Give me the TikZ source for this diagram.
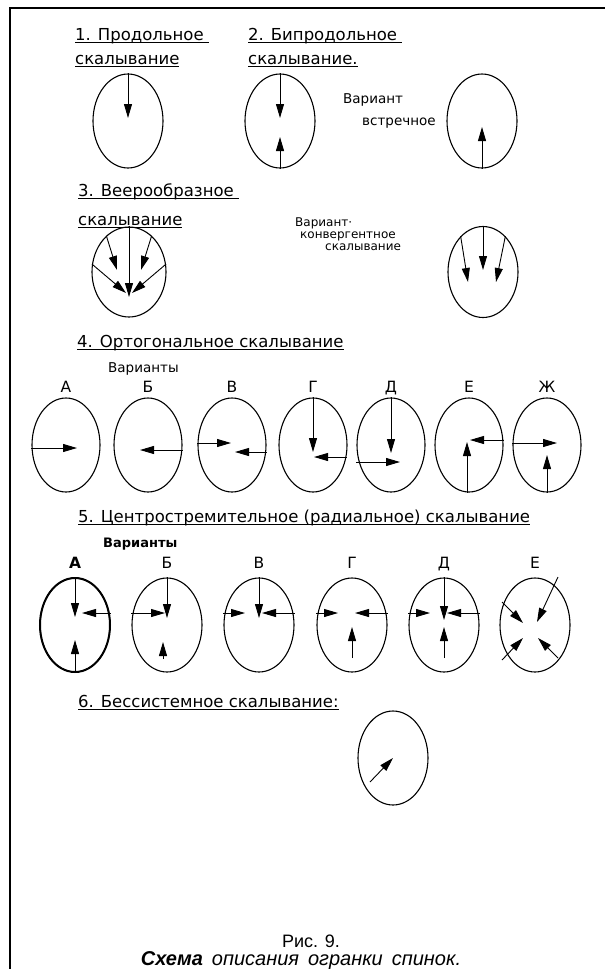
\documentclass[tikz,border=0pt]{standalone}
\usepackage{fontspec}
\setmainfont{DejaVu Sans}
\newfontfamily\capfont{Liberation Sans}
\usetikzlibrary{positioning, calc, arrows.meta, shapes.geometric}

\newcommand{\ulin}[1]{\sbox0{#1}\rlap{\rule[-3pt]{\wd0}{0.9pt}}\usebox0}

\begin{document}
\begin{tikzpicture}[x=1pt, y=-1pt,
    oval/.style={draw, ellipse, minimum width=70pt, minimum height=94pt,
                 inner sep=0pt, line width=1.1pt},
    arw/.style={-{Triangle[length=14pt, width=8pt]}, line width=0.9pt},
    head/.style={anchor=base west, inner sep=0pt, font=\fontsize{16.5}{20}\selectfont},
    note/.style={anchor=base west, inner sep=0pt, font=\fontsize{13.5}{16}\selectfont},
    lett/.style={anchor=base, inner sep=0pt, font=\fontsize{15.5}{18}\selectfont},
]
\useasboundingbox (0,0) rectangle (605,969);
\draw[line width=2.5pt] (9,8) -- (605,8);
\draw[line width=2pt] (10,8) -- (10,969);

% 1 and 2
\node[head] (h1a) at (75,40) {\ulin{1. Продольное\ }};
\node[head] (h1b) at (75,64) {\ulin{скалывание}};
\node[oval] (p1) at (128,121) {};
\draw[arw] (p1.north) -- ($(p1.center)+(0,-3)$);

\node[head] (h2a) at (248,40) {\ulin{2. Бипродольное\ }};
\node[head] (h2b) at (248,64) {\ulin{скалывание.}};
\node[oval] (p2) at (280,121) {};
\draw[arw] (p2.north) -- ($(p2.center)+(0,-3)$);
\draw[arw] (p2.south) -- ($(p2.center)+(0,16)$);

\node[note] (v2a) at (343,103) {Вариант};
\node[note] (v2b) at (362,125) {встречное};
\node[oval] (p3) at (482,121) {};
\draw[arw] (p3.south) -- ($(p3.center)+(0,6)$);

% 3
\node[head] (h3a) at (78,196) {\ulin{3. Веерообразное\ }};
\node[head] (h3b) at (78,225) {\ulin{скалывание}};
\node[oval, minimum width=74pt, minimum height=90pt] (f1) at (129,272) {};
\draw[arw] (f1.north) -- ($(f1.center)+(0,25)$);
\draw[arw] (f1.122) -- ($(f1.center)+(-12,-2)$);
\draw[arw] (f1.58) -- ($(f1.center)+(12,-2)$);
\draw[arw] (f1.168) -- ($(f1.center)+(-3,21)$);
\draw[arw] (f1.12) -- ($(f1.center)+(3,21)$);

\node[note, font=\fontsize{12}{14}\selectfont] (v3a) at (295,226) {Вариант·};
\node[note, font=\fontsize{12}{14}\selectfont] (v3b) at (300,238) {конвергентное};
\node[note, font=\fontsize{12}{14}\selectfont] (v3c) at (325,250) {скалывание};
\node[oval, minimum height=91pt] (f2) at (483,272) {};
\draw[arw] (f2.north) -- ($(f2.center)+(0,-2)$);
\draw[arw] (f2.122) -- ($(f2.center)+(-15,10)$);
\draw[arw] (f2.58) -- ($(f2.center)+(13,10)$);

% 4
\node[head] (h4) at (77,347) {\ulin{4. Ортогональное скалывание}};
\node[note] (v4) at (108,372) {Варианты};
\foreach \n/\x/\l in {a/66/А, b/148/Б, c/232/В, d/313/Г, e/391/Д, f/469/Е, g/547/Ж} {
    \node[oval, minimum width=68pt] (o\n) at (\x,445) {};
    \node[lett] (l\n) at (\x,392) {\l};
}
\draw[arw] ($(oa.west)+(0,3)$) -- ($(oa.center)+(11,3)$);
\draw[arw] ($(ob.east)+(0,5)$) -- ($(ob.center)+(-8,5)$);
\draw[arw] ($(oc.west)+(0,-2)$) -- ($(oc.center)+(-1,-2)$);
\draw[arw] ($(oc.east)+(0,7)$) -- ($(oc.center)+(3,7)$);
\draw[arw] (od.north) -- ($(od.center)+(0,7)$);
\draw[arw] ($(od.east)+(-1,12)$) -- ($(od.center)+(1,12)$);
\draw[arw] (oe.north) -- ($(oe.center)+(0,8)$);
\draw[arw] ($(oe.west)+(0,17)$) -- ($(oe.center)+(9,17)$);
\draw[arw] ($(of.south)+(-2,0)$) -- ($(of.center)+(-2,-3)$);
\draw[arw] ($(of.east)+(0,-5)$) -- ($(of.center)+(1,-5)$);
\draw[arw] ($(og.west)+(0,-2)$) -- ($(og.center)+(10,-2)$);
\draw[arw] (og.south) -- ($(og.center)+(0,10)$);

% 5
\node[head] (h5) at (78,522) {\ulin{5. Центростремительное (радиальное) скалывание}};
\node[note, font=\fontsize{13}{16}\selectfont\bfseries] (v5) at (103,547) {Варианты};
\foreach \n/\x/\l in {a/75/\textbf{А}, b/167/Б, c/259/В, d/352/Г, e/444/Д, f/535/Е} {
    \node[oval] (r\n) at (\x,625) {};
    \node[lett] (m\n) at (\x,568) {\l};
}
\draw[line width=2pt] (ra.center) ellipse[x radius=35pt, y radius=47pt];
\draw[arw] (ra.north) -- ($(ra.center)+(0,-8)$);
\draw[arw] ($(ra.east)+(0,-12)$) -- ($(ra.center)+(7,-12)$);
\draw[arw] (ra.south) -- ($(ra.center)+(0,15)$);
\draw[arw] (rb.north) -- ($(rb.center)+(0,-7)$);
\draw[arw] ($(rb.west)+(0,-12)$) -- ($(rb.center)+(-2,-12)$);
\draw[arw] ($(rb.center)+(-4,34)$) -- ($(rb.center)+(-4,17)$);
\draw[arw] (rc.north) -- ($(rc.center)+(0,-7)$);
\draw[arw] ($(rc.west)+(0,-12)$) -- ($(rc.center)+(-14,-12)$);
\draw[arw] ($(rc.east)+(0,-12)$) -- ($(rc.center)+(3,-12)$);
\draw[arw] ($(rd.west)+(0,-12)$) -- ($(rd.center)+(-14,-12)$);
\draw[arw] ($(rd.east)+(0,-12)$) -- ($(rd.center)+(3,-12)$);
\draw[arw] ($(rd.center)+(0,33)$) -- ($(rd.center)+(0,2)$);
\draw[arw] (re.north) -- ($(re.center)+(0,-5)$);
\draw[arw] ($(re.west)+(0,-12)$) -- ($(re.center)+(-14,-12)$);
\draw[arw] ($(re.east)+(0,-12)$) -- ($(re.center)+(3,-12)$);
\draw[arw] ($(re.center)+(0,33)$) -- ($(re.center)+(0,2)$);
\draw[arw] ($(rf.center)+(23,-48)$) -- ($(rf.center)+(2,-3)$);
\draw[arw] ($(rf.center)+(-33,-23)$) -- ($(rf.center)+(-12,-2)$);
\draw[arw] ($(rf.center)+(-33,35)$) -- ($(rf.center)+(-12,13)$);
\draw[arw] ($(rf.center)+(23,33)$) -- ($(rf.center)+(3,13)$);

% 6
\node[head] (h6) at (78,707) {\ulin{6. Бессистемное скалывание:}};
\node[oval] (s6) at (393,758) {};
\draw[arw] ($(s6.center)+(-23,24)$) -- (s6.center);

% caption
\node[anchor=base, inner sep=0pt, font=\capfont\fontsize{18}{22}\selectfont] (cap1) at (311,947) {Рис. 9.};
\node[anchor=base, inner sep=0pt, font=\capfont\fontsize{20}{24}\selectfont\itshape] (cap2) at (301,965)
    {\spaceskip=9pt\textbf{Схема} описания огранки спинок.};
\end{tikzpicture}
\end{document}
